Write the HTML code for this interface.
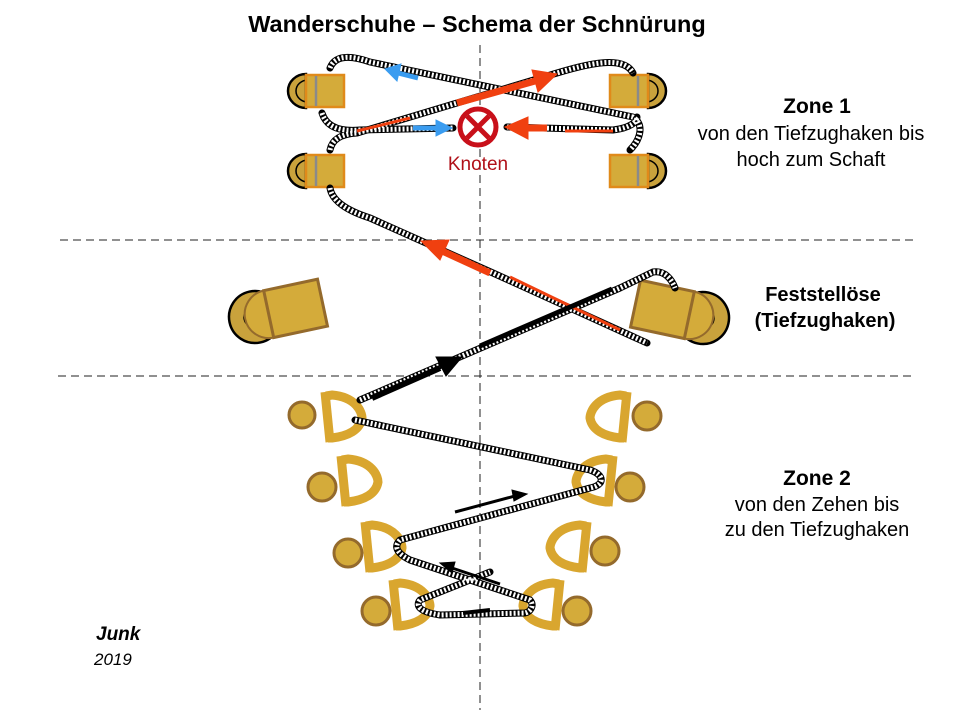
<!DOCTYPE html>
<html><head><meta charset="utf-8"><style>
body{margin:0;background:#fff;}
svg{display:block;}
text{font-family:"Liberation Sans",sans-serif;}
</style></head><body>
<svg width="960" height="720" viewBox="0 0 960 720" xmlns="http://www.w3.org/2000/svg">
<defs>
<g id="hookL">
 <path d="M20,0 A18,17 0 0 0 20,34 Z" fill="#c9a23c" stroke="#000" stroke-width="2.5"/>
 <path d="M22,6 A12,11 0 0 0 22,28" fill="none" stroke="#000" stroke-width="1.5"/>
 <rect x="20" y="1" width="38" height="32" fill="#d4ab3a" stroke="#e08a1a" stroke-width="2.5"/>
 <line x1="30" y1="2" x2="30" y2="32" stroke="#8a8a8a" stroke-width="2.5"/>
</g>
<g id="dring">
 <path d="M6,4 L12,3 C36,5 42,20 42,26 C40,38 28,44 12,46 L8,46" fill="none" stroke="#d9a62f" stroke-width="9"/>
 <line x1="5" y1="0" x2="10" y2="50" stroke="#d9a62f" stroke-width="9"/>
</g>
</defs>

<text x="477" y="32" text-anchor="middle" font-size="23.5" font-weight="bold">Wanderschuhe – Schema der Schnürung</text>

<line x1="480" y1="45" x2="480" y2="710" stroke="#222" stroke-width="1" stroke-dasharray="8,5"/>
<line x1="60" y1="240" x2="915" y2="240" stroke="#222" stroke-width="1" stroke-dasharray="8,5"/>
<line x1="58" y1="376" x2="915" y2="376" stroke="#222" stroke-width="1" stroke-dasharray="8,5"/>

<use href="#hookL" x="286" y="74"/>
<use href="#hookL" x="286" y="154"/>
<use href="#hookL" transform="translate(668,74) scale(-1,1)"/>
<use href="#hookL" transform="translate(668,154) scale(-1,1)"/>

<g transform="translate(255,317) rotate(-12)">
 <circle cx="0" cy="0" r="26" fill="#c9a23c" stroke="#000" stroke-width="2.5"/>
 <circle cx="-2" cy="0" r="9" fill="#c8c8c8" stroke="#000" stroke-width="1.5"/>
 <path d="M14,-24 A24,24 0 0 0 14,24 Z" fill="#d4ab3a" stroke="#946a2c" stroke-width="2"/>
 <rect x="14" y="-24" width="55" height="48" fill="#d4ab3a" stroke="#946a2c" stroke-width="3"/>
</g>
<g transform="translate(703,318) rotate(12)">
 <circle cx="0" cy="0" r="26" fill="#c9a23c" stroke="#000" stroke-width="2.5"/>
 <circle cx="2" cy="0" r="9" fill="#c8c8c8" stroke="#000" stroke-width="1.5"/>
 <path d="M-14,-24 A24,24 0 0 1 -14,24 Z" fill="#d4ab3a" stroke="#946a2c" stroke-width="2"/>
 <rect x="-69" y="-24" width="55" height="48" fill="#d4ab3a" stroke="#946a2c" stroke-width="3"/>
</g>

<g fill="#d4ab3a" stroke="#946a2c" stroke-width="3">
 <circle cx="302" cy="415" r="13"/><circle cx="322" cy="487" r="14"/>
 <circle cx="348" cy="553" r="14"/><circle cx="376" cy="611" r="14"/>
 <circle cx="647" cy="416" r="14"/><circle cx="630" cy="487" r="14"/>
 <circle cx="605" cy="551" r="14"/><circle cx="577" cy="611" r="14"/>
</g>
<use href="#dring" x="320" y="392"/>
<use href="#dring" x="336" y="456"/>
<use href="#dring" x="360" y="522"/>
<use href="#dring" x="388" y="580"/>
<use href="#dring" transform="translate(632,392) scale(-1,1)"/>
<use href="#dring" transform="translate(618,456) scale(-1,1)"/>
<use href="#dring" transform="translate(592,522) scale(-1,1)"/>
<use href="#dring" transform="translate(565,580) scale(-1,1)"/>

<g fill="none" stroke-linecap="round" stroke-linejoin="round" stroke="#000" stroke-width="7">
 <path d="M330,68 C335,55 350,55 370,62 L633,117 C645,125 640,140 630,150"/>
 <path d="M322,113 C326,126 338,132 360,130 L453,128"/>
 <path d="M330,150 C332,140 340,134 357,133 L557,73 C600,60 625,58 633,73"/>
 <path d="M507,127 L613,130 C630,128 637,122 637,117"/>
 <path d="M330,188 C332,200 345,210 370,218 L493,273 L647,343"/>
 <path d="M360,400 L620,288 L653,272 C665,270 672,280 675,288"/>
 <path d="M355,420 L590,470 C605,475 605,485 590,488 L400,540 C392,548 400,555 410,560 L530,600 C535,606 530,612 525,613 L440,615 C420,612 415,606 420,600 L490,572"/>
</g>
<g fill="none" stroke="#fff" stroke-width="5" stroke-dasharray="2,2">
 <path d="M330,68 C335,55 350,55 370,62 L633,117 C645,125 640,140 630,150"/>
 <path d="M322,113 C326,126 338,132 360,130 L453,128"/>
 <path d="M330,150 C332,140 340,134 357,133 L557,73 C600,60 625,58 633,73"/>
 <path d="M507,127 L613,130 C630,128 637,122 637,117"/>
 <path d="M330,188 C332,200 345,210 370,218 L493,273 L647,343"/>
 <path d="M360,400 L620,288 L653,272 C665,270 672,280 675,288"/>
 <path d="M355,420 L590,470 C605,475 605,485 590,488 L400,540 C392,548 400,555 410,560 L530,600 C535,606 530,612 525,613 L440,615 C420,612 415,606 420,600 L490,572"/>
</g>

<g stroke="#f04010" fill="#f04010">
 <line x1="457" y1="103" x2="535" y2="81" stroke-width="7"/>
 <polygon points="557,74 532,70 538,92"/>
 <line x1="357" y1="131" x2="410" y2="118" stroke-width="3"/>
 <line x1="565" y1="131" x2="613" y2="131" stroke-width="3"/>
 <line x1="547" y1="128" x2="525" y2="128" stroke-width="7"/>
 <polygon points="505,127 528,117 528,139"/>
 <line x1="490" y1="273" x2="440" y2="250" stroke-width="7"/>
 <polygon points="421,241 449,240 440,260"/>
 <line x1="510" y1="277" x2="620" y2="330" stroke-width="3"/>
</g>
<g stroke="#3a9cf0" fill="#3a9cf0">
 <line x1="418" y1="78" x2="398" y2="73" stroke-width="5"/>
 <polygon points="385,69 401,64 397,81"/>
 <line x1="413" y1="128" x2="438" y2="128" stroke-width="5"/>
 <polygon points="452,128 436,120 436,136"/>
</g>
<g stroke="#000" fill="#000">
 <line x1="372" y1="398" x2="440" y2="368" stroke-width="6"/>
 <polygon points="462,357 436,357 446,376"/>
 <line x1="480" y1="346" x2="612" y2="289" stroke-width="5"/>
 <line x1="455" y1="512" x2="515" y2="496" stroke-width="3"/>
 <polygon points="527,494 512,490 514,501"/>
 <line x1="500" y1="584" x2="452" y2="568" stroke-width="3"/>
 <polygon points="440,563 455,562 452,573"/>
 <line x1="463" y1="613" x2="490" y2="610" stroke-width="4"/>
</g>

<circle cx="478" cy="127" r="18" fill="#fff" stroke="#c8101a" stroke-width="5"/>
<line x1="467" y1="116" x2="489" y2="138" stroke="#c8101a" stroke-width="5"/>
<line x1="489" y1="116" x2="467" y2="138" stroke="#c8101a" stroke-width="5"/>
<text x="478" y="170" text-anchor="middle" font-size="19" fill="#b01018">Knoten</text>

<text x="817" y="113" text-anchor="middle" font-size="21" font-weight="bold">Zone 1</text>
<text x="811" y="140" text-anchor="middle" font-size="20">von den Tiefzughaken bis</text>
<text x="811" y="166" text-anchor="middle" font-size="20">hoch zum Schaft</text>
<text x="823" y="301" text-anchor="middle" font-size="20" font-weight="bold">Feststellöse</text>
<text x="825" y="327" text-anchor="middle" font-size="20" font-weight="bold">(Tiefzughaken)</text>
<text x="817" y="485" text-anchor="middle" font-size="21" font-weight="bold">Zone 2</text>
<text x="817" y="511" text-anchor="middle" font-size="20">von den Zehen bis</text>
<text x="817" y="536" text-anchor="middle" font-size="20">zu den Tiefzughaken</text>
<text x="96" y="640" font-size="19" font-style="italic" font-weight="bold" font-family="Liberation Serif, serif">Junk</text>
<text x="94" y="665" font-size="17" font-style="italic" font-family="Liberation Serif, serif">2019</text>
</svg>
</body></html>
